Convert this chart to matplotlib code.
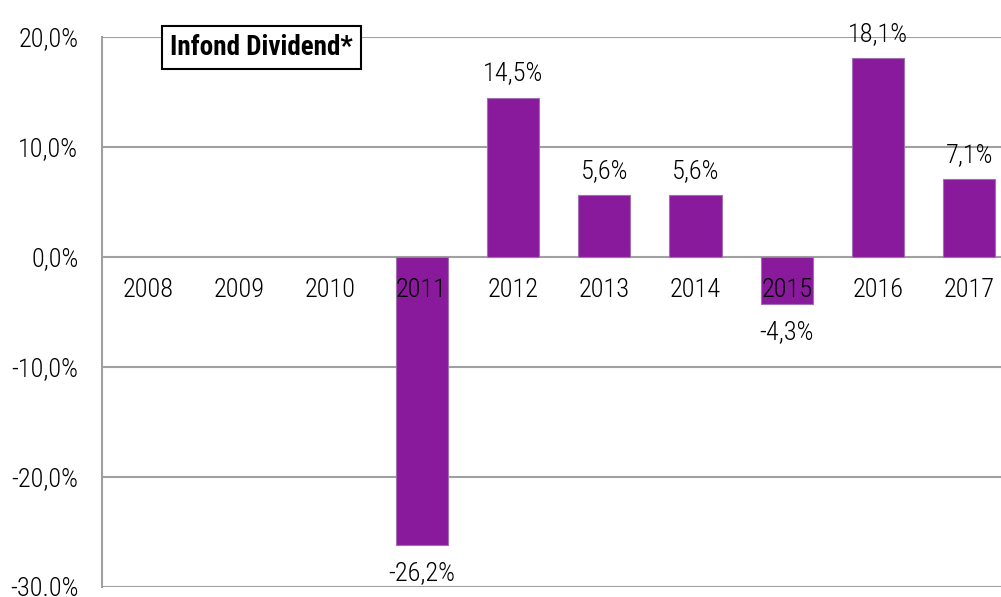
import matplotlib
matplotlib.use('Agg')
import matplotlib.pyplot as plt
from matplotlib import font_manager
import numpy as np

installed = {f.name for f in font_manager.fontManager.ttflist}
fams = [f for f in ['Roboto Condensed', 'Archivo Narrow', 'PT Sans Narrow'] if f in installed]
plt.rcParams['font.family'] = fams + ['DejaVu Sans']
if not fams:
    plt.rcParams['font.stretch'] = 'condensed'

years = ['2008', '2009', '2010', '2011', '2012', '2013', '2014', '2015', '2016', '2017']
returns = [np.nan, np.nan, np.nan, -26.2, 14.5, 5.6, 5.6, -4.3, 18.1, 7.1]
ytick_vals = [20, 10, 0, -10, -20, -30]
ytick_labels = ['20,0%', '10,0%', '0,0%', '-10,0%', '-20,0%', '-30.0%']
title = 'Infond Dividend*'

bar_color = '#8A1A9C'
grid_color = '#A0A0A0'
fs = 19

fig = plt.figure(figsize=(10.01, 5.97), dpi=100)
ax = fig.add_axes([0.102, 0.0168, 0.912, 0.9212])

x = np.arange(len(years))
ax.bar(x, returns, width=0.57, color=bar_color, edgecolor='#A070B0', linewidth=0.8, zorder=3)

ax.set_xlim(-0.5, len(years) - 0.5)
ax.set_ylim(-30, 20)
for v in ytick_vals:
    ax.axhline(v, color=grid_color, linewidth=1.5, zorder=1)

ax.set_yticks(ytick_vals)
ax.set_yticklabels(ytick_labels, fontsize=fs, fontweight='light')
ax.tick_params(axis='y', length=0, pad=17)
ax.set_xticks([])

for s in ['top', 'right', 'bottom']:
    ax.spines[s].set_visible(False)
ax.spines['left'].set_color(grid_color)
ax.spines['left'].set_linewidth(1.5)

# year labels just under the zero line
for xi, yr in zip(x, years):
    ax.text(xi, -3.0, yr, ha='center', va='center', fontsize=fs, fontweight='light', zorder=4)

# value labels
for xi, v in zip(x, returns):
    if np.isnan(v):
        continue
    lab = f'{v:.1f}%'.replace('.', ',')
    off = 24 if v >= 0 else -28
    ax.annotate(lab, (xi, v), xytext=(0, off), textcoords='offset pixels',
                ha='center', va='center', fontsize=fs, fontweight='light')

fig.text(0.2615, 0.921, title, ha='center', va='center', fontsize=19.5, fontweight='semibold',
         bbox=dict(boxstyle='square,pad=0.3', facecolor='white', edgecolor='black', linewidth=1.5))

fig.savefig('out.png', dpi=100)
